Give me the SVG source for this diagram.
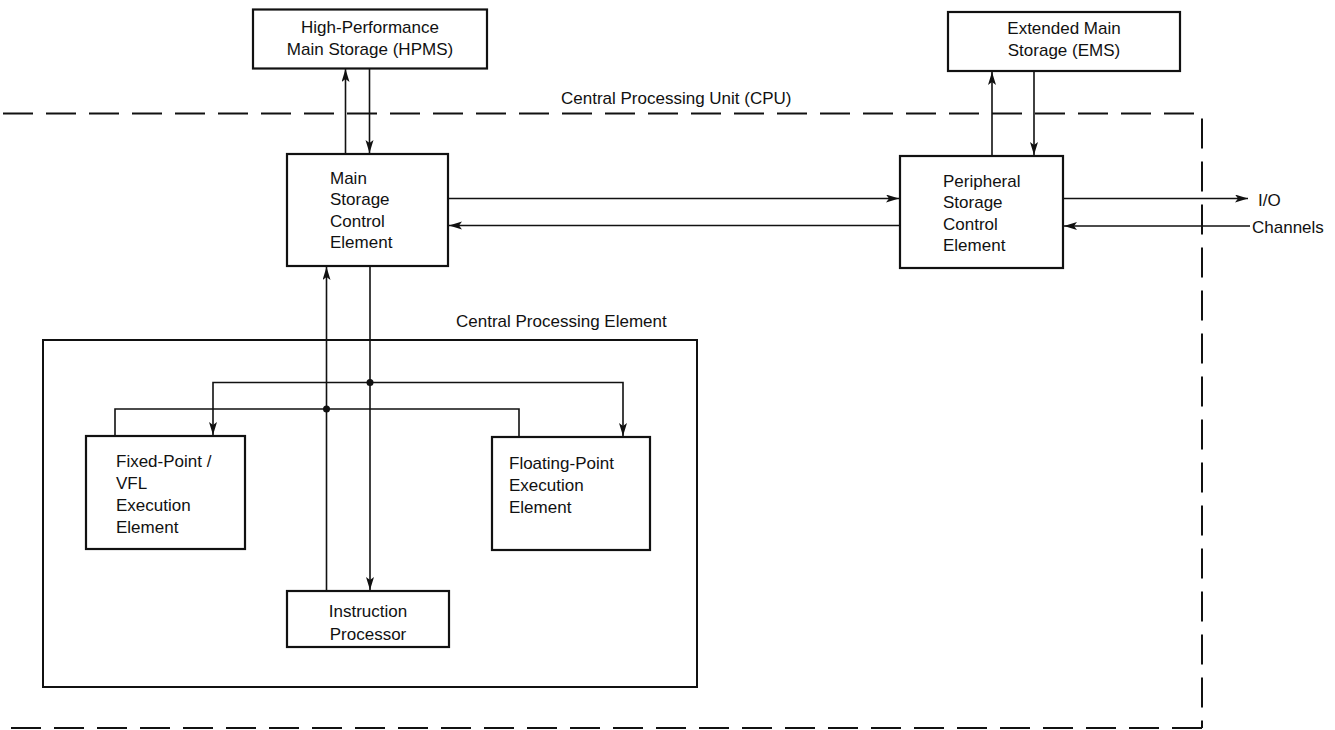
<svg xmlns="http://www.w3.org/2000/svg" width="1335" height="730" viewBox="0 0 1335 730">
<style>
  .box { fill: #fff; stroke: #111; stroke-width: 2.2; }
  .cont { fill: none; stroke: #111; stroke-width: 2; }
  .dash { fill: none; stroke: #111; stroke-width: 2; stroke-dasharray: 30 13; }
  .wire { fill: none; stroke: #111; stroke-width: 1.6; }
  .arr { marker-end: url(#ah); }
  text { font-family: "Liberation Sans", Arial, sans-serif; font-size: 17px; fill: #111; }
  .c { text-anchor: middle; }
</style>
<defs>
  <marker id="ah" markerUnits="userSpaceOnUse" markerWidth="14" markerHeight="10" refX="13" refY="4" orient="auto">
    <path d="M0,0 L13,4 L0,8 L3,4 z" fill="#111"/>
  </marker>
</defs>
<rect width="1335" height="730" fill="#fff"/>

<g id="cpu">
  <path class="dash" d="M3,113.5 H1202 V728"/>
  <path class="dash" d="M1202,728 H0"/>
  <text x="561" y="104">Central Processing Unit (CPU)</text>
</g>

<g id="hpms">
  <rect class="box" x="253" y="9.5" width="234" height="59"/>
  <text class="c" x="370" y="33">High-Performance</text>
  <text class="c" x="370" y="55">Main Storage (HPMS)</text>
</g>

<g id="ems">
  <rect class="box" x="948" y="12" width="232" height="59"/>
  <text class="c" x="1064" y="34">Extended Main</text>
  <text class="c" x="1064" y="56">Storage (EMS)</text>
</g>

<g id="msce">
  <rect class="box" x="287" y="154" width="161" height="112"/>
  <text x="330" y="184">Main</text>
  <text x="330" y="205">Storage</text>
  <text x="330" y="227">Control</text>
  <text x="330" y="248">Element</text>
</g>

<g id="psce">
  <rect class="box" x="900" y="156" width="163" height="112"/>
  <text x="943" y="187">Peripheral</text>
  <text x="943" y="208">Storage</text>
  <text x="943" y="230">Control</text>
  <text x="943" y="251">Element</text>
</g>

<g id="io">
  <text x="1258" y="206">I/O</text>
  <text x="1252" y="233">Channels</text>
</g>

<g id="cpe">
  <rect class="cont" x="43" y="340" width="654" height="347"/>
  <text x="456" y="327">Central Processing Element</text>
</g>

<g id="fxee">
  <rect class="box" x="86" y="436" width="159" height="113"/>
  <text x="116" y="467">Fixed-Point /</text>
  <text x="116" y="489">VFL</text>
  <text x="116" y="511">Execution</text>
  <text x="116" y="533">Element</text>
</g>

<g id="fpee">
  <rect class="box" x="492" y="437" width="158" height="113"/>
  <text x="509" y="469">Floating-Point</text>
  <text x="509" y="491">Execution</text>
  <text x="509" y="513">Element</text>
</g>

<g id="ip">
  <rect class="box" x="287" y="591" width="162" height="56"/>
  <text class="c" x="368" y="617">Instruction</text>
  <text class="c" x="368" y="640">Processor</text>
</g>

<g id="connectors">
  <path class="wire arr" d="M345.5,154 V69"/>
  <path class="wire arr" d="M369.5,69 V153"/>
  <path class="wire arr" d="M992,156 V72"/>
  <path class="wire arr" d="M1034,71 V155"/>
  <path class="wire arr" d="M448,198.5 H899"/>
  <path class="wire arr" d="M900,225.5 H449"/>
  <path class="wire arr" d="M1063,198.5 H1248"/>
  <path class="wire arr" d="M1250,226 H1064"/>
  <path class="wire arr" d="M326.5,591 V267"/>
  <path class="wire arr" d="M370,266 V590"/>
  <path class="wire arr" d="M370,382.5 H213 V435"/>
  <path class="wire arr" d="M370,382.5 H623 V436"/>
  <path class="wire" d="M115,436 V409 H519 V437"/>
  <circle cx="370" cy="382.5" r="3.5" fill="#111"/>
  <circle cx="326.5" cy="409" r="3.5" fill="#111"/>
</g>
</svg>
